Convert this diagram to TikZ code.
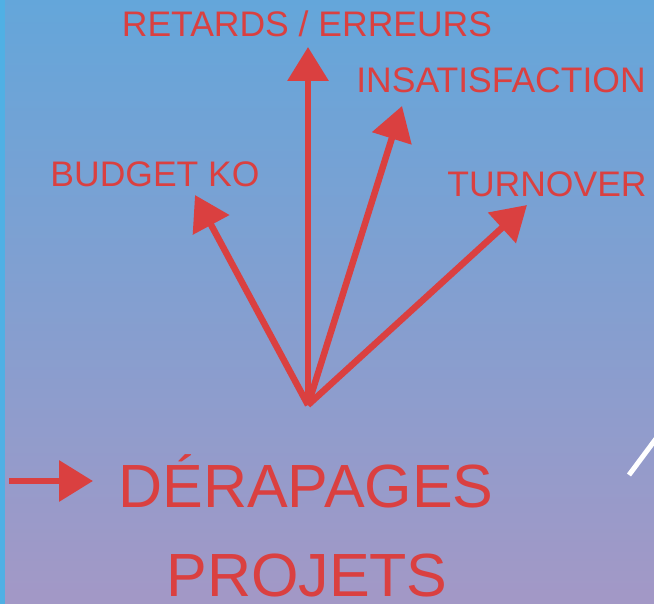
\documentclass[tikz,border=0pt]{standalone}
\usepackage{fontspec}
\setmainfont{Liberation Sans}
\usetikzlibrary{arrows.meta}
\definecolor{rouge}{RGB}{218,64,64}
\definecolor{haut}{RGB}{100,166,218}
\definecolor{bas}{RGB}{163,152,198}
\definecolor{bord}{RGB}{80,176,228}

\begin{document}
\begin{tikzpicture}[x=1pt,y=-1pt,
labelnode/.style={text=rouge, font=\fontsize{35.5}{35.5}\selectfont, inner sep=0pt, anchor=base},
bignode/.style={text=rouge, font=\fontsize{61}{61}\selectfont, inner sep=0pt, anchor=base},
redarrow/.style={draw=rouge, line width=6.5pt, -{Triangle[length=34pt,width=40pt]}},
]
% fond
\shade[top color=haut, bottom color=bas] (0,0) rectangle (654,604);
\fill[bord] (0,0) rectangle (5,604);
\useasboundingbox (0,0) rectangle (654,604);

\node[labelnode] (retards) at (307,37) {RETARDS / ERREURS};
\node[labelnode] (insatisf) at (501,93) {INSATISFACTION};
\node[labelnode] (budget) at (155,187) {BUDGET KO};
\node[labelnode] (turnover) at (547,197) {TURNOVER};
\node[bignode] (derapages) at (306,507) {DÉRAPAGES};
\node[bignode] (projets) at (307,596) {PROJETS};

\coordinate (hub) at (308,405);
\coordinate (tipretards) at (308,47);
\coordinate (tipinsatisf) at (402,106);
\coordinate (tipbudget) at (195,195);
\coordinate (tipturnover) at (527,205);
\coordinate (start) at (9,481);
\coordinate (tipstart) at (93,481);

\draw[redarrow] (hub) -- (tipretards);
\draw[redarrow] (hub) -- (tipinsatisf);
\draw[redarrow] (hub) -- (tipbudget);
\draw[redarrow] (hub) -- (tipturnover);
\draw[redarrow] (start) -- (tipstart);

\coordinate (traitA) at (629,475);
\coordinate (traitB) at (658,436);
\draw[white, line width=5pt] (traitA) -- (traitB);
\end{tikzpicture}
\end{document}
